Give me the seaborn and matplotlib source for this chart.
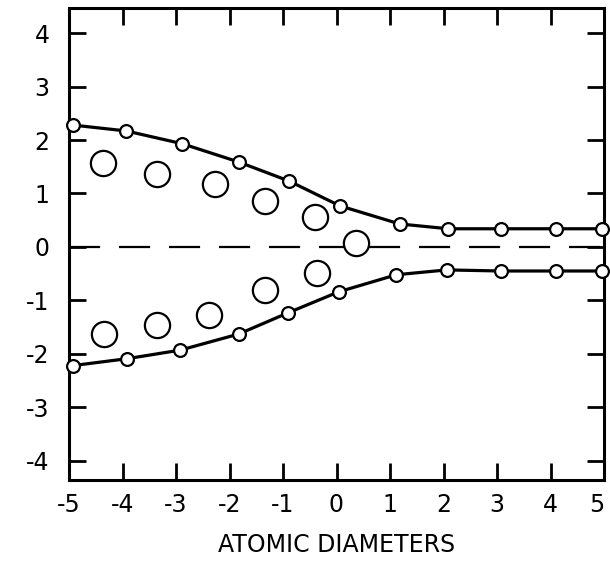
import matplotlib
matplotlib.use("Agg")
import matplotlib.pyplot as plt
import seaborn as sns
import pandas as pd

# Data
upper_x = [-4.93, -3.93, -2.88, -1.83, -0.88, 0.06, 1.18, 2.09, 3.07, 4.11, 4.97]
upper_y = [2.28, 2.17, 1.93, 1.59, 1.23, 0.77, 0.43, 0.34, 0.34, 0.34, 0.34]
lower_x = [-4.93, -3.91, -2.92, -1.83, -0.90, 0.04, 1.12, 2.06, 3.07, 4.11, 4.97]
lower_y = [-2.22, -2.09, -1.93, -1.63, -1.23, -0.84, -0.52, -0.43, -0.45, -0.45, -0.45]
big_x = [-4.36, -3.35, -2.28, -1.33, -0.41, 0.36, -4.34, -3.36, -2.39, -1.33, -0.37]
big_y = [1.57, 1.36, 1.18, 0.86, 0.56, 0.07, -1.63, -1.46, -1.27, -0.80, -0.49]
xticks = [-5, -4, -3, -2, -1, 0, 1, 2, 3, 4, 5]
xticklabels = ["-5", "-4", "-3", "-2", "-1", "0", "1", "2", "3", "4", "5"]
yticks = [-4, -3, -2, -1, 0, 1, 2, 3, 4]
yticklabels = ["-4", "-3", "-2", "-1", "0", "1", "2", "3", "4"]
xlabel = "ATOMIC DIAMETERS"

sns.set_theme(style="ticks")
plt.rcParams["font.family"] = ["DejaVu Sans"]

fig = plt.figure(figsize=(6.10, 5.63), dpi=100)
ax = fig.add_axes([69/610, 83/563, 535/610, 472/563])

# dashed zero line
ax.axhline(0, color="black", lw=1.6, ls=(0, (14, 8.5)), zorder=1)

upper = pd.DataFrame({"x": upper_x, "y": upper_y})
lower = pd.DataFrame({"x": lower_x, "y": lower_y})
big = pd.DataFrame({"x": big_x, "y": big_y})

for df in (upper, lower):
    sns.lineplot(data=df, x="x", y="y", ax=ax, color="black", lw=2.3,
                 sort=False, zorder=2, estimator=None)
    sns.scatterplot(data=df, x="x", y="y", ax=ax, s=85, facecolor="white",
                    edgecolor="black", linewidth=1.6, zorder=3, clip_on=False)

sns.scatterplot(data=big, x="x", y="y", ax=ax, s=330, facecolor="white",
                edgecolor="black", linewidth=1.6, zorder=3)

ax.set_xlim(-5, 5)
ax.set_ylim(-4.36, 4.47)
ax.set_xticks(xticks)
ax.set_xticklabels(xticklabels)
ax.set_yticks(yticks)
ax.set_yticklabels(yticklabels)
ax.tick_params(direction="in", length=12, width=2.0, top=True, right=True,
               labelsize=17, colors="black")
ax.tick_params(axis="y", pad=14)
ax.tick_params(axis="x", pad=9)
ax.get_xticklabels()[-1].set_horizontalalignment("right")
for sp in ax.spines.values():
    sp.set_linewidth(2.2)
    sp.set_color("black")
ax.set_xlabel(xlabel, fontsize=17, labelpad=12, color="black")
ax.set_ylabel("")

fig.savefig("out.png", dpi=100)
